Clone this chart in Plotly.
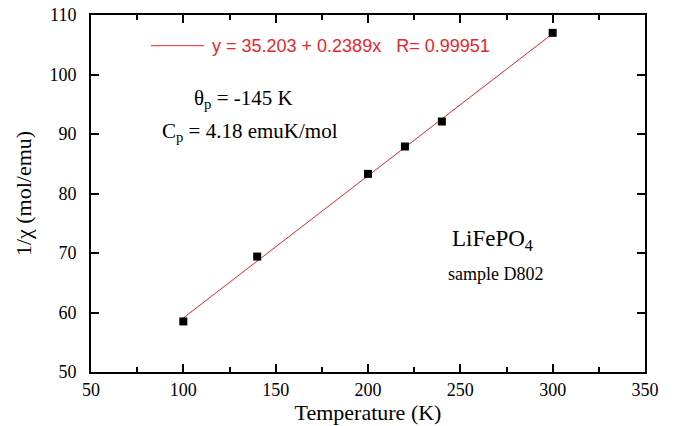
import plotly.graph_objects as go

temperature = [100, 140, 200, 220, 240, 300]
inv_chi = [58.5, 69.4, 83.3, 87.9, 92.1, 107.0]
fit_x = [100, 300]
fit_y = [59.09, 106.87]
fit_label = "y = 35.203 + 0.2389x   R= 0.99951"

serif = "Liberation Serif, Times New Roman, Times, serif"
sans = "Liberation Sans, Arial, Helvetica, sans-serif"
red = "#e8262b"

fig = go.Figure()
fig.add_trace(go.Scatter(x=fit_x, y=fit_y, mode="lines", name=fit_label,
                         line=dict(color=red, width=1), showlegend=False))
fig.add_trace(go.Scatter(x=temperature, y=inv_chi, mode="markers", showlegend=False,
                         marker=dict(symbol="square", size=8, color="black")))

axis_common = dict(showline=True, linecolor="black", linewidth=2, mirror="ticks",
                   ticks="inside", ticklen=8, tickwidth=2, tickcolor="black",
                   showgrid=False, zeroline=False, automargin=False)
fig.update_xaxes(range=[50, 350], dtick=50, **axis_common,
                 tickfont=dict(family=serif, size=18, color="black"),
                 minor=dict(ticks="inside", ticklen=5, tickwidth=1.5, dtick=25, tickcolor="black"),
                 title=dict(text="Temperature (K)", font=dict(family=serif, size=22, color="black"), standoff=4))
fig.update_yaxes(range=[50, 110], dtick=10, **axis_common,
                 tickfont=dict(family=serif, size=18, color="black"),
                 ticklabelstandoff=9,
                 title=dict(text="1/χ (mol/emu)", font=dict(family=serif, size=22, color="black"), standoff=12))

# legend key drawn manually (line + label)
fig.add_shape(type="line", xref="paper", yref="paper", x0=0.108, x1=0.204, y0=0.914, y1=0.914,
              line=dict(color=red, width=1))
fig.add_annotation(x=0.215, y=0.914, xref="paper", yref="paper", xanchor="left", yanchor="middle",
                   showarrow=False, text=fit_label, font=dict(family=sans, size=18, color=red))

fig.add_annotation(x=132.6, y=95.9, xref="x", yref="y", showarrow=False,
                   text="θ<sub>p</sub> = -145 K", font=dict(family=serif, size=21, color="black"))
fig.add_annotation(x=136, y=90.3, xref="x", yref="y", showarrow=False,
                   text="C<sub>p</sub> = 4.18 emuK/mol", font=dict(family=serif, size=21, color="black"))
fig.add_annotation(x=267.4, y=72.2, xref="x", yref="y", showarrow=False,
                   text="LiFePO<sub>4</sub>", font=dict(family=serif, size=23, color="black"))
fig.add_annotation(x=269, y=66.4, xref="x", yref="y", showarrow=False,
                   text="sample D802", font=dict(family=serif, size=18, color="black"))

fig.update_layout(
    width=690, height=426,
    margin=dict(l=91, r=45, t=15, b=54, autoexpand=False),
    font=dict(family=serif, color="black"),
    plot_bgcolor="white", paper_bgcolor="white",
    showlegend=False,
)
fig.write_html("out.html")
